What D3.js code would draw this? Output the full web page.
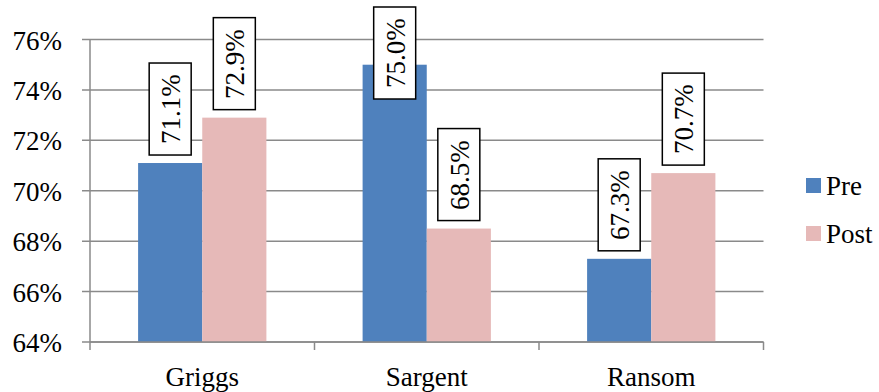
<!DOCTYPE html>
<html><head><meta charset="utf-8">
<script src="https://cdn.jsdelivr.net/npm/d3@7"></script>
<style>
body{margin:0;background:#fff}
#wrap{position:relative;width:879px;height:392px;overflow:hidden}
svg{display:block;position:absolute;left:0;top:0}
.lbl{position:absolute;font-family:'Liberation Serif','Times New Roman',serif;font-size:27px;line-height:1;white-space:nowrap;color:#000}
</style>
</head><body><div id="wrap"><svg id="c" width="879" height="392"></svg></div>
<script>
const categories = ["Griggs", "Sargent", "Ransom"];
const seriesNames = ["Pre", "Post"];
const preValues = [0.711, 0.750, 0.673];
const postValues = [0.729, 0.685, 0.707];
const yTicks = [0.64, 0.66, 0.68, 0.70, 0.72, 0.74, 0.76];
const colors = ["#4F81BD", "#E6B9B8"];

(function(){
const wrap = d3.select("#wrap");
const svg = d3.select("#c");
const pL = 90, pR = 763.5, pT = 39.5, pB = 342;
const y = d3.scaleLinear().domain([0.64, 0.76]).range([pB, pT]);
const x0 = d3.scaleBand().domain(categories).range([pL, pR]).padding(0);
const bw = x0.step() / 3.5;
const x1 = d3.scaleBand().domain(seriesNames).range([0, 2 * bw]).padding(0);
const fmt = d3.format(".1%");
const gridColor = "#8a8a8a";

// html label helper: anchor point (x,y) with translate percentages
function label(txt, x, yy, tx, ty, rot) {
  return wrap.append("div").attr("class","lbl").text(txt)
    .style("left", x + "px").style("top", yy + "px")
    .style("transform", `translate(${tx}%,${ty}%)` + (rot ? ` rotate(${rot}deg)` : ""));
}

svg.selectAll("line.grid").data(yTicks).join("line").attr("class","grid")
  .attr("x1", pL - 8).attr("x2", pR)
  .attr("y1", d => y(d)).attr("y2", d => y(d))
  .attr("stroke", gridColor).attr("stroke-width", 1.5);
svg.append("line").attr("x1",pL).attr("x2",pL).attr("y1",pT).attr("y2",pB)
  .attr("stroke",gridColor).attr("stroke-width",1.5);
yTicks.forEach(t => label(d3.format(".0%")(t), pL - 28, y(t) + 1, -100, -50));

const rows = (i) => seriesNames.map((s, j) => ({s, v: j === 0 ? preValues[i] : postValues[i], j}));
const groups = svg.append("g").selectAll("g").data(categories).join("g")
  .attr("transform", d => `translate(${x0(d) + x0.bandwidth()/2 - bw},0)`);
groups.selectAll("rect").data((c, i) => rows(i)).join("rect")
  .attr("x", d => x1(d.s)).attr("width", x1.bandwidth())
  .attr("y", d => y(d.v)).attr("height", d => pB - y(d.v))
  .attr("fill", d => colors[d.j]);

svg.append("line").attr("x1", pL).attr("x2", pR).attr("y1", pB).attr("y2", pB)
  .attr("stroke", gridColor).attr("stroke-width", 1.5);
const bounds = [pL, ...categories.map(c => x0(c) + x0.bandwidth())];
svg.selectAll("line.xt").data(bounds).join("line").attr("class","xt")
  .attr("x1", d => d).attr("x2", d => d).attr("y1", pB).attr("y2", pB + 8)
  .attr("stroke", gridColor).attr("stroke-width", 1.5);
categories.forEach(c => label(c, x0(c) + x0.bandwidth()/2, 377, -50, -50));

const boxW = 42, boxH = 92, gap = 8, minTop = 7;
categories.forEach((c, i) => {
  const gx = x0(c) + x0.bandwidth()/2 - bw;
  rows(i).forEach(d => {
    const cx = gx + x1(d.s) + x1.bandwidth()/2;
    let by = y(d.v) - gap - boxH;
    if (by < minTop) by = minTop;
    svg.append("rect").attr("x", cx - boxW/2).attr("y", by).attr("width", boxW).attr("height", boxH)
      .attr("fill", "#fff").attr("stroke", "#000").attr("stroke-width", 1.5);
    label(fmt(d.v), cx + 1, by + boxH/2, -50, -50, -90);
  });
});

seriesNames.forEach((s, j) => {
  svg.append("rect").attr("x", 806).attr("y", 178 + j*48).attr("width", 15).attr("height", 15).attr("fill", colors[j]);
  label(s, 826, 186 + j*48, 0, -50);
});
})();
</script></body></html>
